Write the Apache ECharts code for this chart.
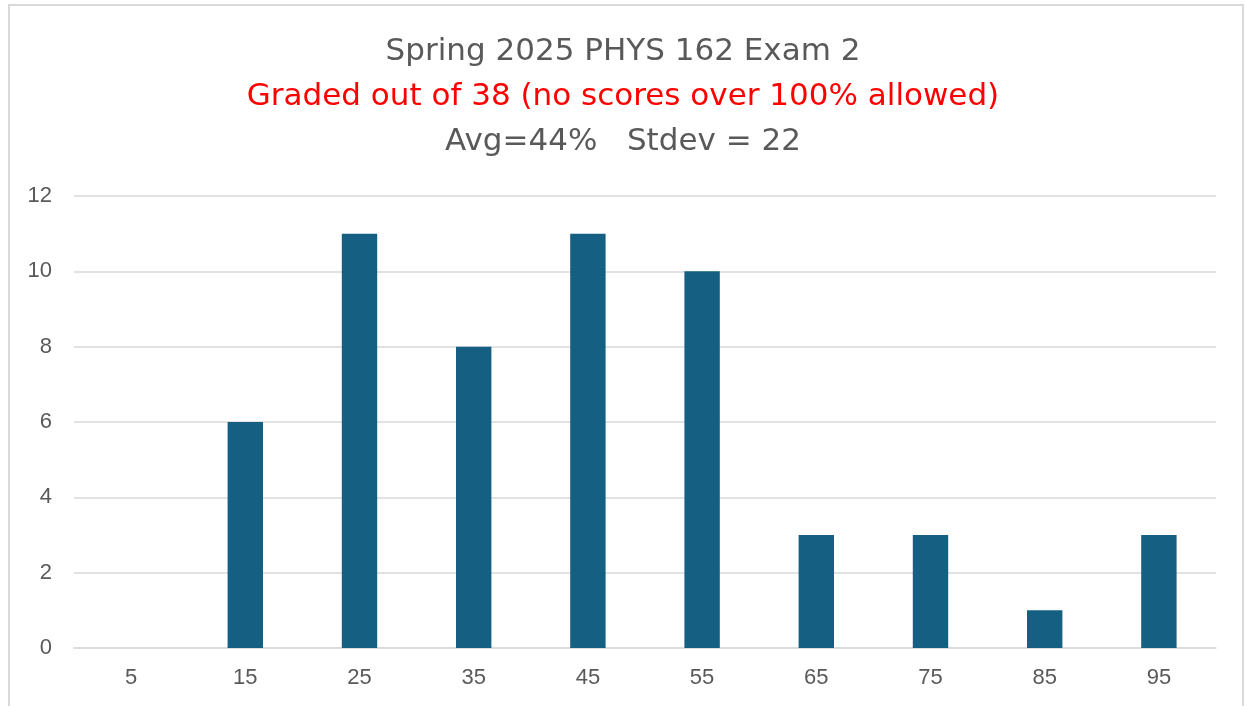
<!DOCTYPE html>
<html>
<head>
<meta charset="utf-8">
<script src="https://cdn.jsdelivr.net/npm/echarts@6/dist/echarts.min.js"></script>
<style>
  html, body { margin: 0; padding: 0; background: #fff; }
  #container { width: 1246px; height: 706px; }
</style>
</head>
<body>
<div id="container"></div>
<script>
  var scoreBins = ['5', '15', '25', '35', '45', '55', '65', '75', '85', '95'];
  var studentCounts = [0, 6, 11, 8, 11, 10, 3, 3, 1, 3];
  var titleLines = ['Spring 2025 PHYS 162 Exam 2', 'Graded out of 38 (no scores over 100% allowed)', 'Avg=44%   Stdev = 22'];

  var dom = document.getElementById("container");
  var myChart = echarts.init(dom);
  var font = 'Liberation Sans';
  var titleFont = 'DejaVu Sans';
  var grey = '#595959';

  var option = {
      //三行标题
      title: [
          { text: titleLines[0], left: 'center', top: 31, textStyle: { fontFamily: titleFont, fontSize: 31, fontWeight: 'normal', color: grey } },
          { text: titleLines[1], left: 'center', top: 76, textStyle: { fontFamily: titleFont, fontSize: 31, fontWeight: 'normal', color: '#ff0000' } },
          { text: titleLines[2], left: 'center', top: 121, textStyle: { fontFamily: titleFont, fontSize: 31, fontWeight: 'normal', color: grey } }
      ],
      // 外框
      graphic: [{
          type: 'rect',
          shape: { x: 9, y: 5, width: 1234, height: 720 },
          style: { fill: null, stroke: '#d9d9d9', lineWidth: 2 }
      }],
      grid: { left: 74, right: 30, top: 196, bottom: 58 },
      xAxis: {
          type: 'category',
          data: scoreBins,
          axisTick: { show: false },
          axisLine: { show: true, lineStyle: { color: '#d9d9d9', width: 1.5 } },
          axisLabel: { fontFamily: font, fontSize: 22, color: grey, margin: 19 }
      },
      yAxis: {
          type: 'value',
          min: 0,
          max: 12,
          interval: 2,
          axisLine: { show: false },
          axisTick: { show: false },
          splitLine: { lineStyle: { color: '#d9d9d9', width: 1.5 } },
          axisLabel: { fontFamily: font, fontSize: 22, color: grey, margin: 22 }
      },
      series: [{
          type: 'bar',
          data: studentCounts,
          barWidth: '31%',
          itemStyle: { color: '#156082' }
      }]
  };
  if (option && typeof option === "object") {
      myChart.setOption(option, true);
  }
</script>
</body>
</html>
